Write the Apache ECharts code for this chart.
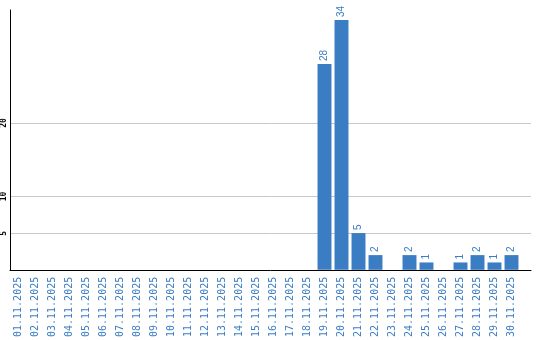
<!DOCTYPE html>
<html><head><meta charset="utf-8">
<script src="https://cdn.jsdelivr.net/npm/echarts@6/dist/echarts.min.js"></script>
<style>html,body{margin:0;padding:0;background:#fff}#c{width:540px;height:340px}</style>
</head><body><div id="c"></div>
<script>
const categories = ['01.11.2025','02.11.2025','03.11.2025','04.11.2025','05.11.2025','06.11.2025','07.11.2025','08.11.2025','09.11.2025','10.11.2025','11.11.2025','12.11.2025','13.11.2025','14.11.2025','15.11.2025','16.11.2025','17.11.2025','18.11.2025','19.11.2025','20.11.2025','21.11.2025','22.11.2025','23.11.2025','24.11.2025','25.11.2025','26.11.2025','27.11.2025','28.11.2025','29.11.2025','30.11.2025'];
const values = [0,0,0,0,0,0,0,0,0,0,0,0,0,0,0,0,0,0,28,34,5,2,0,2,1,0,1,2,1,2];
const yTicks = [5,10,20];
const yMax = 35.36;
const blue = '#3b7dc3';
const chart = echarts.init(document.getElementById('c'), null, {renderer:'canvas'});
chart.setOption({
  animation:false,
  grid:[
    {left:10,right:9,top:10,bottom:70,containLabel:false},
    {left:10,right:20,top:10,bottom:70,containLabel:false}
  ],
  xAxis:[
    {type:'value',gridIndex:0,min:0,max:1,
      axisLine:{show:true,onZero:false,lineStyle:{color:'#000',width:1}},
      axisTick:{show:false},splitLine:{show:false},axisLabel:{show:false}},
    {type:'category',gridIndex:1,data:categories,
      axisLine:{show:false},
      axisTick:{show:false},
      axisLabel:{rotate:90,interval:0,margin:7,color:blue,fontFamily:'DejaVu Sans Mono',fontSize:10}}
  ],
  yAxis:[
    {type:'value',gridIndex:0,min:0,max:yMax,
      axisLine:{show:true,lineStyle:{color:'#000',width:1}},
      axisTick:{show:false,customValues:yTicks},
      splitLine:{show:true,lineStyle:{color:'#c8c8c8',width:1}},
      axisLabel:{rotate:90,margin:2,color:'#000',fontFamily:'DejaVu Sans Mono',fontSize:8,fontWeight:'bold',
        customValues:yTicks}},
    {type:'value',gridIndex:1,min:0,max:yMax,show:false}
  ],
  series:[
    {type:'bar',data:values,xAxisIndex:1,yAxisIndex:1,zlevel:1,z:3,barCategoryGap:'18%',
      itemStyle:{color:blue,opacity:1,borderWidth:0},
      label:{show:true,position:'top',rotate:90,align:'left',verticalAlign:'middle',distance:3,
        color:blue,fontFamily:'Liberation Sans',fontSize:10,
        formatter:p=>p.value?String(p.value):''}}
  ]
});
</script></body></html>
